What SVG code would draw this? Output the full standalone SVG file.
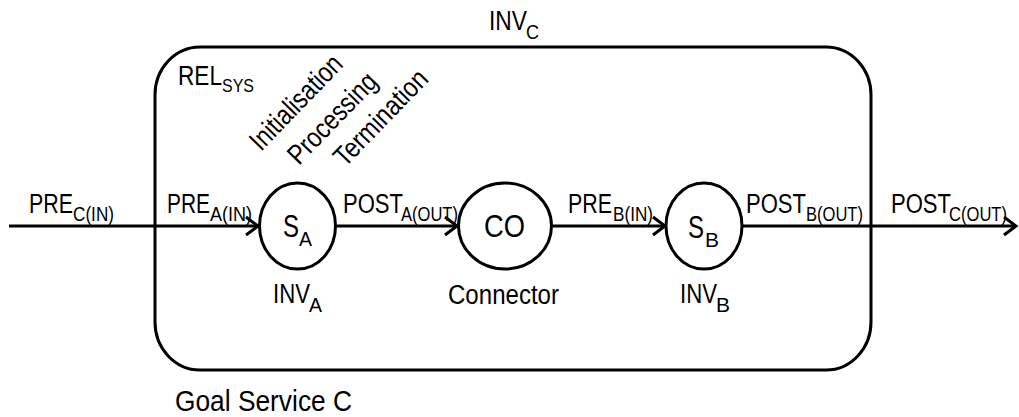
<svg xmlns="http://www.w3.org/2000/svg" width="1019" height="417" viewBox="0 0 1019 417">
<style>
text{font-family:"Liberation Sans",Arial,sans-serif;fill:#000}
.m{font-size:27px}
.s{font-size:21px}
.big{font-size:31px}
.rot{font-size:28px}
.ln{stroke:#000;stroke-width:3;fill:none}
</style>
<defs>
<marker id="arr" markerUnits="userSpaceOnUse" markerWidth="30" markerHeight="30" viewBox="-15 -15 30 30" refX="0" refY="0" orient="auto">
<path d="M-12,-9 L0,0 L-12,9" fill="none" stroke="#000" stroke-width="3"/>
</marker>
</defs>
<rect width="1019" height="417" fill="#fff"/>
<g id="goal-service-c">
<rect class="ln" x="155" y="47" width="716" height="323" rx="45" ry="48"/>
<text class="m" x="489" y="30" textLength="38" lengthAdjust="spacingAndGlyphs">INV</text>
<text class="s" x="526" y="39" textLength="13" lengthAdjust="spacingAndGlyphs">C</text>
<text class="m" x="178" y="85" textLength="44" lengthAdjust="spacingAndGlyphs">REL</text>
<text class="s" x="222" y="92" textLength="32" lengthAdjust="spacingAndGlyphs" style="font-size:19px">SYS</text>
<text class="m" x="175" y="411" textLength="177" lengthAdjust="spacingAndGlyphs" style="font-size:29px">Goal Service C</text>
<text class="rot" transform="translate(261,152) rotate(-46)" textLength="120" lengthAdjust="spacingAndGlyphs">Initialisation</text>
<text class="rot" transform="translate(299,166) rotate(-46)" textLength="115" lengthAdjust="spacingAndGlyphs">Processing</text>
<text class="rot" transform="translate(345,168) rotate(-46)" textLength="122" lengthAdjust="spacingAndGlyphs">Termination</text>
</g>
<g id="connectors">
<line class="ln" x1="9" y1="226" x2="258" y2="226" marker-end="url(#arr)"/>
<line class="ln" x1="337" y1="226" x2="457" y2="226" marker-end="url(#arr)"/>
<line class="ln" x1="553" y1="226" x2="665" y2="226" marker-end="url(#arr)"/>
<line class="ln" x1="743" y1="226" x2="1016" y2="226" marker-end="url(#arr)"/>
<text class="m" x="29" y="213" textLength="44" lengthAdjust="spacingAndGlyphs">PRE</text>
<text class="s" x="73" y="221" textLength="41" lengthAdjust="spacingAndGlyphs">C(IN)</text>
<text class="m" x="167" y="213" textLength="43" lengthAdjust="spacingAndGlyphs">PRE</text>
<text class="s" x="210" y="221" textLength="42" lengthAdjust="spacingAndGlyphs">A(IN)</text>
<text class="m" x="343" y="213" textLength="60" lengthAdjust="spacingAndGlyphs">POST</text>
<text class="s" x="401" y="221" textLength="57" lengthAdjust="spacingAndGlyphs">A(OUT)</text>
<text class="m" x="568" y="213" textLength="44" lengthAdjust="spacingAndGlyphs">PRE</text>
<text class="s" x="613" y="221" textLength="40" lengthAdjust="spacingAndGlyphs">B(IN)</text>
<text class="m" x="746" y="213" textLength="60" lengthAdjust="spacingAndGlyphs">POST</text>
<text class="s" x="806" y="221" textLength="57" lengthAdjust="spacingAndGlyphs">B(OUT)</text>
<text class="m" x="891" y="213" textLength="60" lengthAdjust="spacingAndGlyphs">POST</text>
<text class="s" x="949" y="221" textLength="58" lengthAdjust="spacingAndGlyphs">C(OUT)</text>
</g>
<g id="service-a">
<ellipse class="ln" cx="297.5" cy="226" rx="38" ry="43"/>
<text class="big" x="283" y="237" textLength="16" lengthAdjust="spacingAndGlyphs">S</text>
<text class="s" x="299" y="246" textLength="13" lengthAdjust="spacingAndGlyphs">A</text>
<text class="m" x="273" y="303" textLength="37" lengthAdjust="spacingAndGlyphs">INV</text>
<text class="s" x="309" y="312" textLength="13" lengthAdjust="spacingAndGlyphs">A</text>
</g>
<g id="connector-co">
<ellipse class="ln" cx="505" cy="226" rx="46.5" ry="43"/>
<text class="big" x="484" y="237" textLength="41" lengthAdjust="spacingAndGlyphs">CO</text>
<text class="m" x="448" y="304" textLength="111" lengthAdjust="spacingAndGlyphs">Connector</text>
</g>
<g id="service-b">
<ellipse class="ln" cx="704" cy="226" rx="38" ry="43"/>
<text class="big" x="688" y="238" textLength="16" lengthAdjust="spacingAndGlyphs">S</text>
<text class="s" x="705" y="247" textLength="14" lengthAdjust="spacingAndGlyphs">B</text>
<text class="m" x="680" y="303" textLength="37" lengthAdjust="spacingAndGlyphs">INV</text>
<text class="s" x="716" y="312" textLength="14" lengthAdjust="spacingAndGlyphs">B</text>
</g>
</svg>
